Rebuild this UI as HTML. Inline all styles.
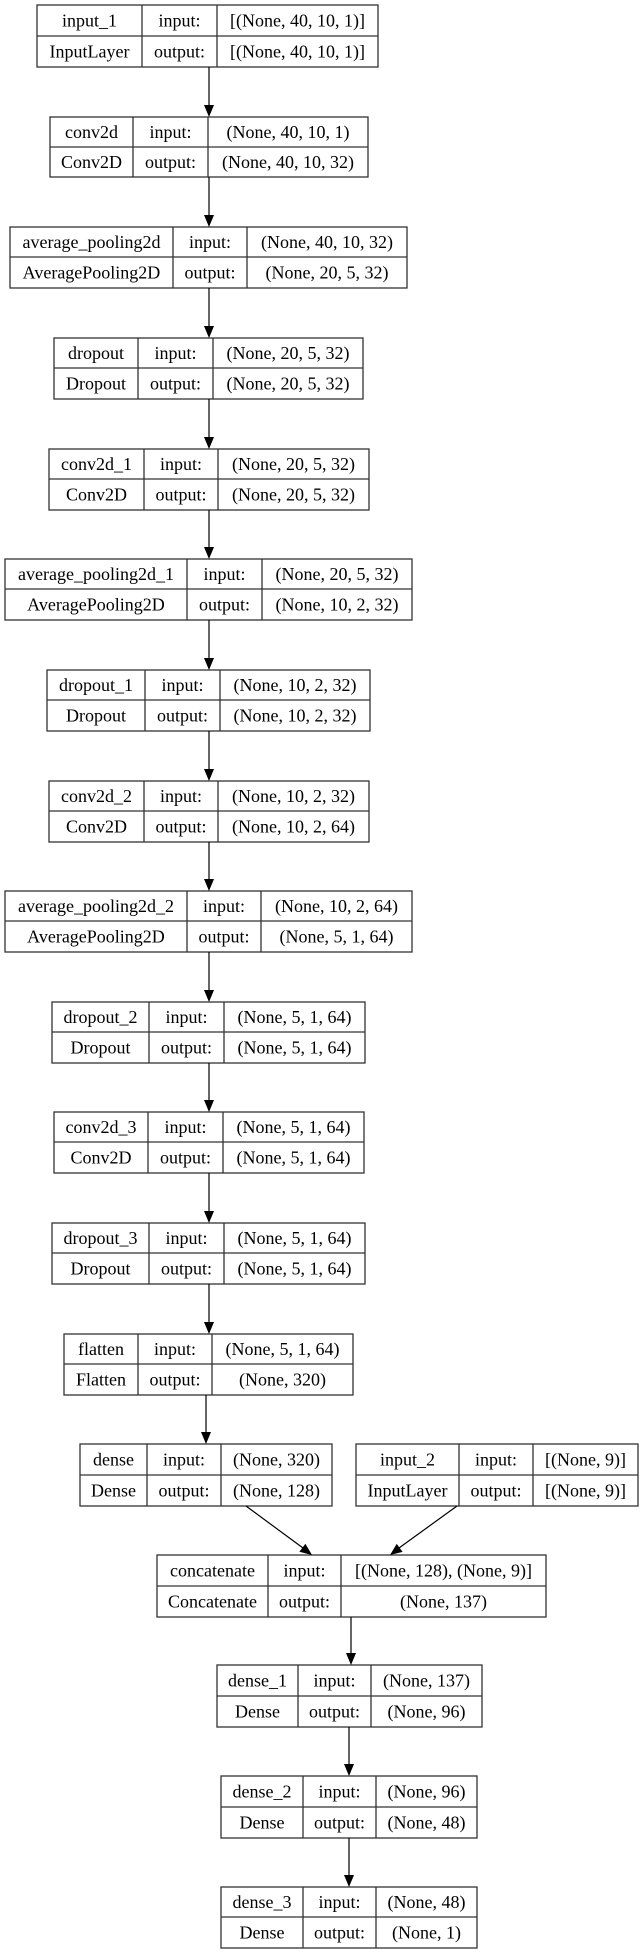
<!DOCTYPE html>
<html><head><meta charset="utf-8"><style>
html,body{margin:0;padding:0;background:#fff;}
svg{display:block;}
text{font-family:"Liberation Serif",serif;font-size:18px;fill:#000;text-anchor:middle;}
rect,line.b{fill:none;stroke:#333;stroke-width:1.3;}
line.a{stroke:#000;stroke-width:1.2;}
polygon{fill:#000;}
</style></head><body>
<svg width="640" height="1955" viewBox="0 0 640 1955" xmlns="http://www.w3.org/2000/svg">
<rect x="0" y="0" width="640" height="1955" style="fill:#fff;stroke:none"/>

<!-- 1 input_1 -->
<rect x="37" y="5" width="341" height="62"/><line class="b" x1="37" y1="36" x2="378" y2="36"/><line class="b" x1="142" y1="5" x2="142" y2="67"/><line class="b" x1="217" y1="5" x2="217" y2="67"/>
<text x="89.5" y="26.5">input_1</text><text x="179.5" y="26.5">input:</text><text x="297.5" y="26.5">[(None, 40, 10, 1)]</text>
<text x="89.5" y="57.5">InputLayer</text><text x="179.5" y="57.5">output:</text><text x="297.5" y="57.5">[(None, 40, 10, 1)]</text>

<!-- 2 conv2d -->
<rect x="50" y="117" width="318" height="60"/><line class="b" x1="50" y1="147" x2="368" y2="147"/><line class="b" x1="133" y1="117" x2="133" y2="177"/><line class="b" x1="208" y1="117" x2="208" y2="177"/>
<text x="91.5" y="138">conv2d</text><text x="170.5" y="138">input:</text><text x="288" y="138">(None, 40, 10, 1)</text>
<text x="91.5" y="168">Conv2D</text><text x="170.5" y="168">output:</text><text x="288" y="168">(None, 40, 10, 32)</text>

<!-- 3 avg -->
<rect x="10" y="227" width="397" height="61"/><line class="b" x1="10" y1="257" x2="407" y2="257"/><line class="b" x1="173" y1="227" x2="173" y2="288"/><line class="b" x1="247" y1="227" x2="247" y2="288"/>
<text x="91.5" y="248">average_pooling2d</text><text x="210" y="248">input:</text><text x="327" y="248">(None, 40, 10, 32)</text>
<text x="91.5" y="278.5">AveragePooling2D</text><text x="210" y="278.5">output:</text><text x="327" y="278.5">(None, 20, 5, 32)</text>

<!-- 4 dropout -->
<rect x="54" y="338" width="309" height="61"/><line class="b" x1="54" y1="368" x2="363" y2="368"/><line class="b" x1="138" y1="338" x2="138" y2="399"/><line class="b" x1="213" y1="338" x2="213" y2="399"/>
<text x="96" y="359">dropout</text><text x="175.5" y="359">input:</text><text x="288" y="359">(None, 20, 5, 32)</text>
<text x="96" y="389.5">Dropout</text><text x="175.5" y="389.5">output:</text><text x="288" y="389.5">(None, 20, 5, 32)</text>

<!-- 5 conv2d_1 -->
<rect x="49" y="449" width="320" height="61"/><line class="b" x1="49" y1="479" x2="369" y2="479"/><line class="b" x1="144" y1="449" x2="144" y2="510"/><line class="b" x1="218" y1="449" x2="218" y2="510"/>
<text x="96.5" y="470">conv2d_1</text><text x="181" y="470">input:</text><text x="293.5" y="470">(None, 20, 5, 32)</text>
<text x="96.5" y="500.5">Conv2D</text><text x="181" y="500.5">output:</text><text x="293.5" y="500.5">(None, 20, 5, 32)</text>

<!-- 6 avg1 -->
<rect x="5" y="559" width="407" height="61"/><line class="b" x1="5" y1="589" x2="412" y2="589"/><line class="b" x1="187" y1="559" x2="187" y2="620"/><line class="b" x1="262" y1="559" x2="262" y2="620"/>
<text x="96" y="580">average_pooling2d_1</text><text x="224.5" y="580">input:</text><text x="337" y="580">(None, 20, 5, 32)</text>
<text x="96" y="610.5">AveragePooling2D</text><text x="224.5" y="610.5">output:</text><text x="337" y="610.5">(None, 10, 2, 32)</text>

<!-- 7 dropout_1 -->
<rect x="47" y="670" width="323" height="61"/><line class="b" x1="47" y1="700" x2="370" y2="700"/><line class="b" x1="145" y1="670" x2="145" y2="731"/><line class="b" x1="220" y1="670" x2="220" y2="731"/>
<text x="96" y="691">dropout_1</text><text x="182.5" y="691">input:</text><text x="295" y="691">(None, 10, 2, 32)</text>
<text x="96" y="721.5">Dropout</text><text x="182.5" y="721.5">output:</text><text x="295" y="721.5">(None, 10, 2, 32)</text>

<!-- 8 conv2d_2 -->
<rect x="49" y="781" width="320" height="61"/><line class="b" x1="49" y1="811" x2="369" y2="811"/><line class="b" x1="144" y1="781" x2="144" y2="842"/><line class="b" x1="218" y1="781" x2="218" y2="842"/>
<text x="96.5" y="802">conv2d_2</text><text x="181" y="802">input:</text><text x="293.5" y="802">(None, 10, 2, 32)</text>
<text x="96.5" y="832.5">Conv2D</text><text x="181" y="832.5">output:</text><text x="293.5" y="832.5">(None, 10, 2, 64)</text>

<!-- 9 avg2 -->
<rect x="5" y="891" width="407" height="61"/><line class="b" x1="5" y1="921" x2="412" y2="921"/><line class="b" x1="187" y1="891" x2="187" y2="952"/><line class="b" x1="261" y1="891" x2="261" y2="952"/>
<text x="96" y="912">average_pooling2d_2</text><text x="224" y="912">input:</text><text x="336.5" y="912">(None, 10, 2, 64)</text>
<text x="96" y="942.5">AveragePooling2D</text><text x="224" y="942.5">output:</text><text x="336.5" y="942.5">(None, 5, 1, 64)</text>

<!-- 10 dropout_2 -->
<rect x="52" y="1002" width="313" height="61"/><line class="b" x1="52" y1="1032" x2="365" y2="1032"/><line class="b" x1="149" y1="1002" x2="149" y2="1063"/><line class="b" x1="224" y1="1002" x2="224" y2="1063"/>
<text x="100.5" y="1023">dropout_2</text><text x="186.5" y="1023">input:</text><text x="294.5" y="1023">(None, 5, 1, 64)</text>
<text x="100.5" y="1053.5">Dropout</text><text x="186.5" y="1053.5">output:</text><text x="294.5" y="1053.5">(None, 5, 1, 64)</text>

<!-- 11 conv2d_3 -->
<rect x="54" y="1112" width="310" height="61"/><line class="b" x1="54" y1="1142" x2="364" y2="1142"/><line class="b" x1="148" y1="1112" x2="148" y2="1173"/><line class="b" x1="223" y1="1112" x2="223" y2="1173"/>
<text x="101" y="1133">conv2d_3</text><text x="185.5" y="1133">input:</text><text x="293.5" y="1133">(None, 5, 1, 64)</text>
<text x="101" y="1163.5">Conv2D</text><text x="185.5" y="1163.5">output:</text><text x="293.5" y="1163.5">(None, 5, 1, 64)</text>

<!-- 12 dropout_3 -->
<rect x="52" y="1223" width="313" height="61"/><line class="b" x1="52" y1="1253" x2="365" y2="1253"/><line class="b" x1="149" y1="1223" x2="149" y2="1284"/><line class="b" x1="224" y1="1223" x2="224" y2="1284"/>
<text x="100.5" y="1244">dropout_3</text><text x="186.5" y="1244">input:</text><text x="294.5" y="1244">(None, 5, 1, 64)</text>
<text x="100.5" y="1274.5">Dropout</text><text x="186.5" y="1274.5">output:</text><text x="294.5" y="1274.5">(None, 5, 1, 64)</text>

<!-- 13 flatten -->
<rect x="64" y="1334" width="289" height="61"/><line class="b" x1="64" y1="1364" x2="353" y2="1364"/><line class="b" x1="138" y1="1334" x2="138" y2="1395"/><line class="b" x1="212" y1="1334" x2="212" y2="1395"/>
<text x="101" y="1355">flatten</text><text x="175" y="1355">input:</text><text x="282.5" y="1355">(None, 5, 1, 64)</text>
<text x="101" y="1385.5">Flatten</text><text x="175" y="1385.5">output:</text><text x="282.5" y="1385.5">(None, 320)</text>

<!-- 14 dense -->
<rect x="80" y="1444" width="252" height="62"/><line class="b" x1="80" y1="1475" x2="332" y2="1475"/><line class="b" x1="147" y1="1444" x2="147" y2="1506"/><line class="b" x1="221" y1="1444" x2="221" y2="1506"/>
<text x="113.5" y="1465.5">dense</text><text x="184" y="1465.5">input:</text><text x="276.5" y="1465.5">(None, 320)</text>
<text x="113.5" y="1496.5">Dense</text><text x="184" y="1496.5">output:</text><text x="276.5" y="1496.5">(None, 128)</text>

<!-- 15 input_2 -->
<rect x="356" y="1444" width="282" height="62"/><line class="b" x1="356" y1="1475" x2="638" y2="1475"/><line class="b" x1="459" y1="1444" x2="459" y2="1506"/><line class="b" x1="533" y1="1444" x2="533" y2="1506"/>
<text x="407.5" y="1465.5">input_2</text><text x="496" y="1465.5">input:</text><text x="585.5" y="1465.5">[(None, 9)]</text>
<text x="407.5" y="1496.5">InputLayer</text><text x="496" y="1496.5">output:</text><text x="585.5" y="1496.5">[(None, 9)]</text>

<!-- 16 concatenate -->
<rect x="157" y="1555" width="389" height="62"/><line class="b" x1="157" y1="1586" x2="546" y2="1586"/><line class="b" x1="268" y1="1555" x2="268" y2="1617"/><line class="b" x1="341" y1="1555" x2="341" y2="1617"/>
<text x="212.5" y="1576.5">concatenate</text><text x="304.5" y="1576.5">input:</text><text x="443.5" y="1576.5">[(None, 128), (None, 9)]</text>
<text x="212.5" y="1607.5">Concatenate</text><text x="304.5" y="1607.5">output:</text><text x="443.5" y="1607.5">(None, 137)</text>

<!-- 17 dense_1 -->
<rect x="217" y="1665" width="265" height="62"/><line class="b" x1="217" y1="1696" x2="482" y2="1696"/><line class="b" x1="298" y1="1665" x2="298" y2="1727"/><line class="b" x1="371" y1="1665" x2="371" y2="1727"/>
<text x="257.5" y="1686.5">dense_1</text><text x="334.5" y="1686.5">input:</text><text x="426.5" y="1686.5">(None, 137)</text>
<text x="257.5" y="1717.5">Dense</text><text x="334.5" y="1717.5">output:</text><text x="426.5" y="1717.5">(None, 96)</text>

<!-- 18 dense_2 -->
<rect x="221" y="1776" width="256" height="62"/><line class="b" x1="221" y1="1807" x2="477" y2="1807"/><line class="b" x1="303" y1="1776" x2="303" y2="1838"/><line class="b" x1="376" y1="1776" x2="376" y2="1838"/>
<text x="262" y="1797.5">dense_2</text><text x="339.5" y="1797.5">input:</text><text x="426.5" y="1797.5">(None, 96)</text>
<text x="262" y="1828.5">Dense</text><text x="339.5" y="1828.5">output:</text><text x="426.5" y="1828.5">(None, 48)</text>

<!-- 19 dense_3 -->
<rect x="221" y="1887" width="256" height="61"/><line class="b" x1="221" y1="1917" x2="477" y2="1917"/><line class="b" x1="303" y1="1887" x2="303" y2="1948"/><line class="b" x1="376" y1="1887" x2="376" y2="1948"/>
<text x="262" y="1908">dense_3</text><text x="339.5" y="1908">input:</text><text x="426.5" y="1908">(None, 48)</text>
<text x="262" y="1938.5">Dense</text><text x="339.5" y="1938.5">output:</text><text x="426.5" y="1938.5">(None, 1)</text>

<!-- arrows -->
<line class="a" x1="209" y1="67" x2="209" y2="106"/><polygon points="204,105 214,105 209,117"/>
<line class="a" x1="209" y1="177" x2="209" y2="216"/><polygon points="204,215 214,215 209,227"/>
<line class="a" x1="209" y1="288" x2="209" y2="327"/><polygon points="204,326 214,326 209,338"/>
<line class="a" x1="209" y1="399" x2="209" y2="438"/><polygon points="204,437 214,437 209,449"/>
<line class="a" x1="209" y1="510" x2="209" y2="548"/><polygon points="204,547 214,547 209,559"/>
<line class="a" x1="209" y1="620" x2="209" y2="659"/><polygon points="204,658 214,658 209,670"/>
<line class="a" x1="209" y1="731" x2="209" y2="770"/><polygon points="204,769 214,769 209,781"/>
<line class="a" x1="209" y1="842" x2="209" y2="880"/><polygon points="204,879 214,879 209,891"/>
<line class="a" x1="209" y1="952" x2="209" y2="991"/><polygon points="204,990 214,990 209,1002"/>
<line class="a" x1="209" y1="1063" x2="209" y2="1101"/><polygon points="204,1100 214,1100 209,1112"/>
<line class="a" x1="209" y1="1173" x2="209" y2="1212"/><polygon points="204,1211 214,1211 209,1223"/>
<line class="a" x1="209" y1="1284" x2="209" y2="1323"/><polygon points="204,1322 214,1322 209,1334"/>
<line class="a" x1="206" y1="1395" x2="206" y2="1433"/><polygon points="201,1432 211,1432 206,1444"/>
<line class="a" x1="246" y1="1506" x2="303" y2="1548"/><polygon points="299.4,1551.8 305.4,1543.8 312,1555"/>
<line class="a" x1="457" y1="1506" x2="399" y2="1548"/><polygon points="396.7,1543.9 402.6,1551.9 390,1555"/>
<line class="a" x1="351" y1="1617" x2="351" y2="1654"/><polygon points="346,1653 356,1653 351,1665"/>
<line class="a" x1="349" y1="1727" x2="349" y2="1765"/><polygon points="344,1764 354,1764 349,1776"/>
<line class="a" x1="349" y1="1838" x2="349" y2="1876"/><polygon points="344,1875 354,1875 349,1887"/>
</svg>
</body></html>
